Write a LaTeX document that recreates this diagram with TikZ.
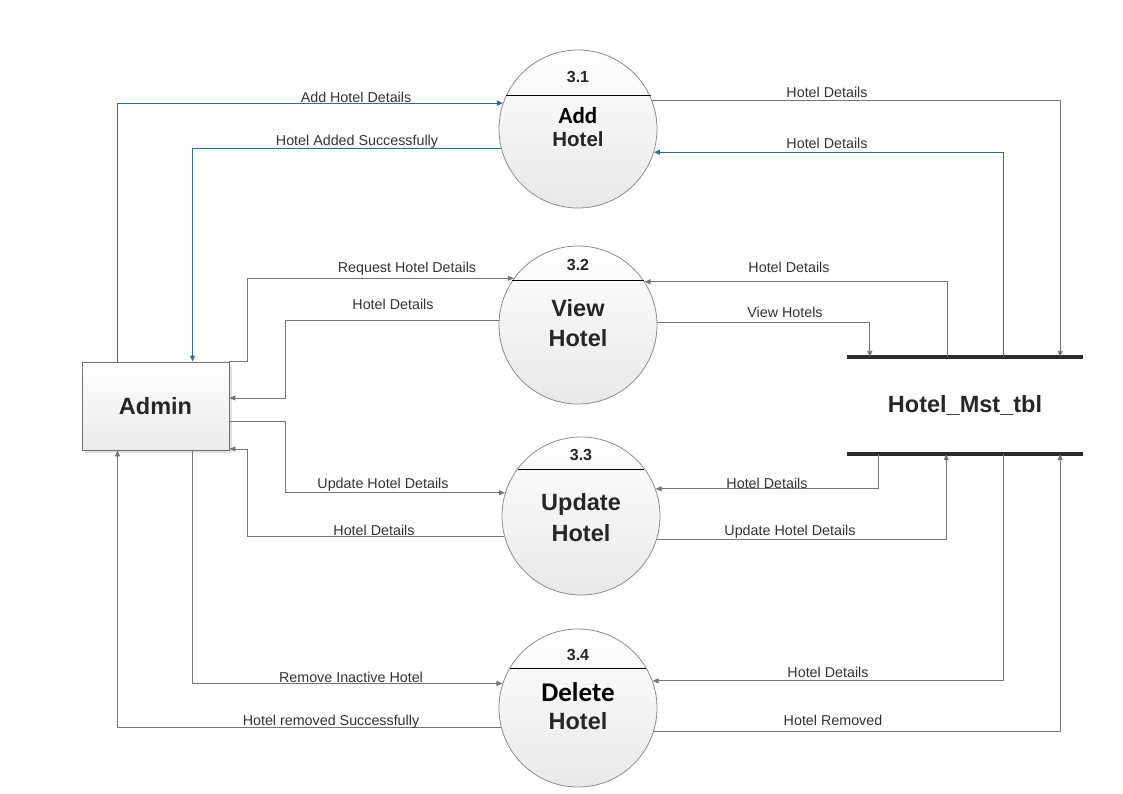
\documentclass[tikz,border=0pt]{standalone}
\usepackage{fontspec}
\setmainfont{Liberation Sans}
\newfontfamily\calfont{Carlito}
\usetikzlibrary{arrows.meta,calc,shadows}
\definecolor{lineg}{HTML}{757575}
\definecolor{lineb}{HTML}{2E6E9B}
\definecolor{txt}{HTML}{262626}
\definecolor{lbltxt}{HTML}{333333}
\definecolor{storec}{HTML}{2A2A2A}
\definecolor{circb}{HTML}{8C8C8C}
\definecolor{entb}{HTML}{707070}
\tikzset{
  proc/.style={circle, minimum size=158pt, inner sep=0pt, draw=circb, line width=0.8pt,
    top color=white, bottom color=black!9},
  ent/.style={rectangle, minimum width=147pt, minimum height=88pt, inner sep=0pt,
    draw=entb, line width=0.9pt, top color=white, bottom color=black!8,
    drop shadow={shadow xshift=2.5pt, shadow yshift=-2.5pt, fill=black!12, opacity=1}},
  flow/.style={draw=lineg, line width=0.9pt, -{Triangle[length=6pt,width=5pt]}},
  bflow/.style={flow, draw=lineb},
  lbl/.style={font=\fontsize{14.3}{16}\selectfont, text=lbltxt, inner sep=0pt, anchor=base, yshift=-5.1pt},
  num/.style={font=\bfseries\fontsize{16}{18}\selectfont, text=txt, inner sep=0pt, anchor=base, yshift=-5.7pt},
  pname/.style={font=\bfseries\fontsize{23.5}{25}\selectfont, text=txt, inner sep=0pt, anchor=base, yshift=-8.4pt},
  pnames/.style={font=\bfseries\fontsize{20.5}{22}\selectfont, text=txt, inner sep=0pt, anchor=base, yshift=-7.3pt},
  pcal/.style={font=\calfont\bfseries\fontsize{23}{25}\selectfont, text=black, inner sep=0pt, anchor=base, yshift=-7.4pt},
  pcalb/.style={font=\calfont\bfseries\fontsize{27}{29}\selectfont, text=black, inner sep=0pt, anchor=base, yshift=-8.7pt},
  chord/.style={draw=black, line width=0.9pt},
  storeline/.style={draw=storec, line width=3.5pt},
  bigtext/.style={font=\bfseries\fontsize{23.5}{25}\selectfont, text=txt}
}
\begin{document}
\begin{tikzpicture}[x=1pt,y=-1pt]
\useasboundingbox (0,0) rectangle (1123,794);
\fill[white] (0,0) rectangle (1123,794);

% processes
\node[proc] (c31) at (578,129) {};
\node[proc] (c32) at (578,325) {};
\node[proc] (c33) at (581,516) {};
\node[proc] (c34) at (578,708) {};

% chords
\draw[chord] ($(c31)+(-72,-34)$) -- ($(c31)+(73,-34)$);
\draw[chord] ($(c32)+(-66,-45)$) -- ($(c32)+(66,-45)$);
\draw[chord] ($(c33)+(-63,-47)$) -- ($(c33)+(63,-47)$);
\draw[chord] ($(c34)+(-68,-40)$) -- ($(c34)+(68,-40)$);

% process texts
\node[num] (n31) at (578,77) {3.1};
\node[pcal] (t31a) at (578,116) {Add};
\node[pnames] (t31b) at (578,139) {Hotel};
\node[num] (n32) at (578,265) {3.2};
\node[pname] (t32a) at (578,308) {View};
\node[pname] (t32b) at (578,338) {Hotel};
\node[num] (n33) at (581,455) {3.3};
\node[pname] (t33a) at (581,502) {Update};
\node[pname] (t33b) at (581,533) {Hotel};
\node[num] (n34) at (578,655) {3.4};
\node[pcalb] (t34a) at (578,693) {Delete};
\node[pname] (t34b) at (578,721) {Hotel};

% entity
\node[ent, bigtext] (admin) at (155.5,406) {Admin};

% data store
\node[minimum width=236pt, minimum height=97pt, inner sep=0pt, bigtext] (store) at (965,405.5) {Hotel\_Mst\_tbl};
\draw[storeline] (store.north west) -- (store.north east);
\draw[storeline] (store.south west) -- (store.south east);

% flows 3.1
\draw[bflow] ($(admin.north west)+(36,0)$) |- (c31.161.6);
\draw[bflow] (c31.194.7) -| ($(admin.north west)+(111,0)$);
\draw[flow] (c31.21.5) -| ($(store.north east)+(-23,0)$);
\draw[bflow] ($(store.north east)+(-80,0)$) |- (c31.343.8);

% flows 3.2
\draw[flow] ($(store.north east)+(-136,0)$) |- (c32.33.9);
\draw[flow] (c32.2.9) -| ($(store.north west)+(23,0)$);
\draw[flow] (admin.north east) -- ++(18,0) |- (c32.144.4);
\draw[flow] (c32.177.1) -| ($(admin.east)+(56,-8)$) -- ($(admin.east)+(0,-8)$);

% flows 3.3
\draw[flow] ($(admin.east)+(0,15)$) -- ++(56,0) |- (c33.163.1);
\draw[flow] (c33.195.4) -| ($(admin.east)+(18,43)$) -- ($(admin.east)+(0,43)$);
\draw[flow] ($(store.south west)+(32,0)$) |- (c33.20);
\draw[flow] (c33.343.8) -| ($(store.south east)+(-137,0)$);

% flows 3.4
\draw[flow] ($(store.south east)+(-80,0)$) |- (c34.20.8);
\draw[flow] (c34.343.1) -| ($(store.south east)+(-23,0)$);
\draw[flow] ($(admin.south west)+(111,0)$) |- (c34.162.3);
\draw[flow] (c34.194.7) -| ($(admin.south west)+(36,0)$);

% labels
\node[lbl] (l1) at (356,97) {Add Hotel Details};
\node[lbl] (l2) at (357,140) {Hotel Added Successfully};
\node[lbl] (l3) at (827,92) {Hotel Details};
\node[lbl] (l4) at (827,143) {Hotel Details};
\node[lbl] (l5) at (789,267) {Hotel Details};
\node[lbl] (l6) at (785,312) {View Hotels};
\node[lbl] (l7) at (407,267) {Request Hotel Details};
\node[lbl] (l8) at (393,304) {Hotel Details};
\node[lbl] (l9) at (383,483) {Update Hotel Details};
\node[lbl] (l10) at (374,530) {Hotel Details};
\node[lbl] (l11) at (767,483) {Hotel Details};
\node[lbl] (l12) at (790,530) {Update Hotel Details};
\node[lbl] (l13) at (828,672) {Hotel Details};
\node[lbl] (l14) at (833,720) {Hotel Removed};
\node[lbl] (l15) at (351,677) {Remove Inactive Hotel};
\node[lbl] (l16) at (331,720) {Hotel removed Successfully};
\end{tikzpicture}
\end{document}
